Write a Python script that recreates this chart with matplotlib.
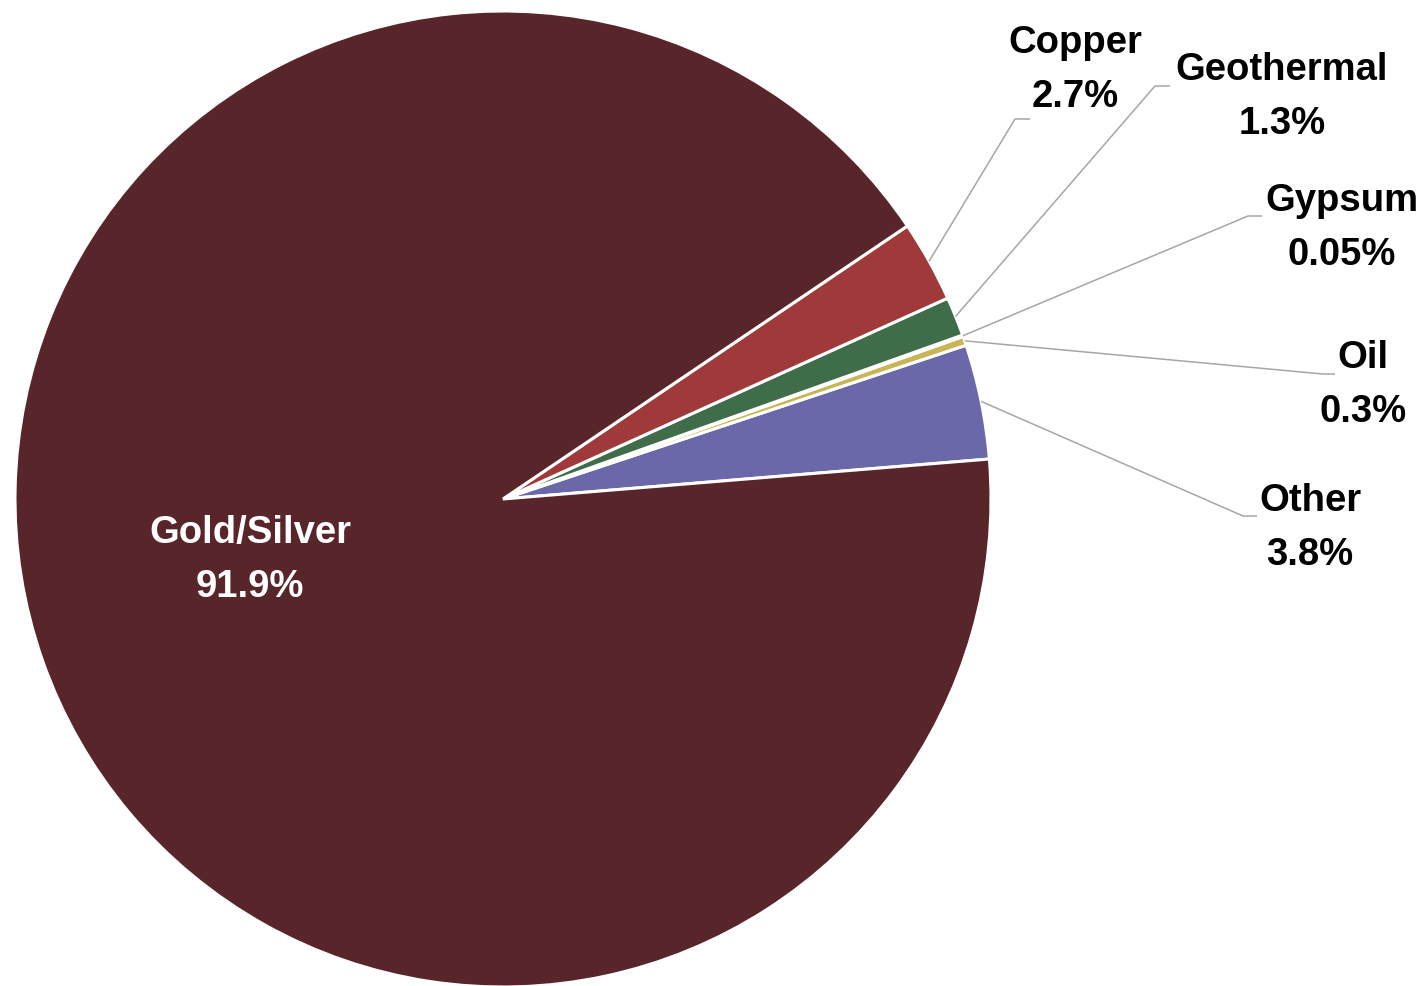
import matplotlib.pyplot as plt
import numpy as np

# share of total by commodity, drawn counter-clockwise from the "Other" slice
categories = ["Other", "Oil", "Gypsum", "Geothermal", "Copper", "Gold/Silver"]
shares = [3.8, 0.3, 0.05, 1.3, 2.7, 91.9]
pct_labels = ["3.8%", "0.3%", "0.05%", "1.3%", "2.7%", "91.9%"]
colors = ["#6a68a8", "#c9b456", "#e3d9a0", "#3f6d4a", "#a0393a", "#58252a"]

W, H = 1427, 987
CX, CY, R = 503, 500, 488  # pie centre / radius in pixels (y from top)

# label block centre and leader elbow (x0, x1, y), pixels from top-left
label_pos = {
    "Copper": (1075, 70),
    "Geothermal": (1282, 97),
    "Gypsum": (1342, 228),
    "Oil": (1363, 385),
    "Other": (1310, 528),
}
elbows = {
    "Copper": (1015, 1030, 120),
    "Geothermal": (1155, 1170, 87),
    "Gypsum": (1248, 1262, 217),
    "Oil": (1323, 1335, 375),
    "Other": (1243, 1257, 517),
}


def fy(y):
    return H - y


def main() -> None:
    fig = plt.figure(figsize=(W / 100, H / 100), dpi=100)
    ax = fig.add_axes([0, 0, 1, 1])

    wedges, _ = ax.pie(shares, colors=colors, startangle=4.7, counterclock=True,
                       center=(CX, fy(CY)), radius=R, frame=True,
                       wedgeprops=dict(edgecolor="white", linewidth=2.2))
    ax.set_xlim(0, W)
    ax.set_ylim(0, H)
    ax.set_aspect("equal")
    ax.axis("off")

    font = dict(family=["Liberation Sans", "DejaVu Sans"], fontweight="bold",
                fontsize=27.5)

    for w, name, pct in zip(wedges, categories, pct_labels):
        mid = np.deg2rad((w.theta1 + w.theta2) / 2)
        if name == "Gold/Silver":
            ax.text(250, fy(560), f"{name}\n{pct}", color="white", ha="center",
                    va="center", linespacing=1.65, **font)
            continue
        sx = CX + R * np.cos(mid)
        sy = fy(CY) + R * np.sin(mid)
        x0, x1, ey = elbows[name]
        ax.plot([sx, x0, x1], [sy, fy(ey), fy(ey)], color="#a6a6a6", lw=1.1,
                solid_capstyle="butt")
        lx, ly = label_pos[name]
        ax.text(lx, fy(ly), f"{name}\n{pct}", color="black", ha="center",
                va="center", linespacing=1.65, **font)

    fig.savefig("out.png", dpi=100, facecolor="white")


if __name__ == "__main__":
    main()
